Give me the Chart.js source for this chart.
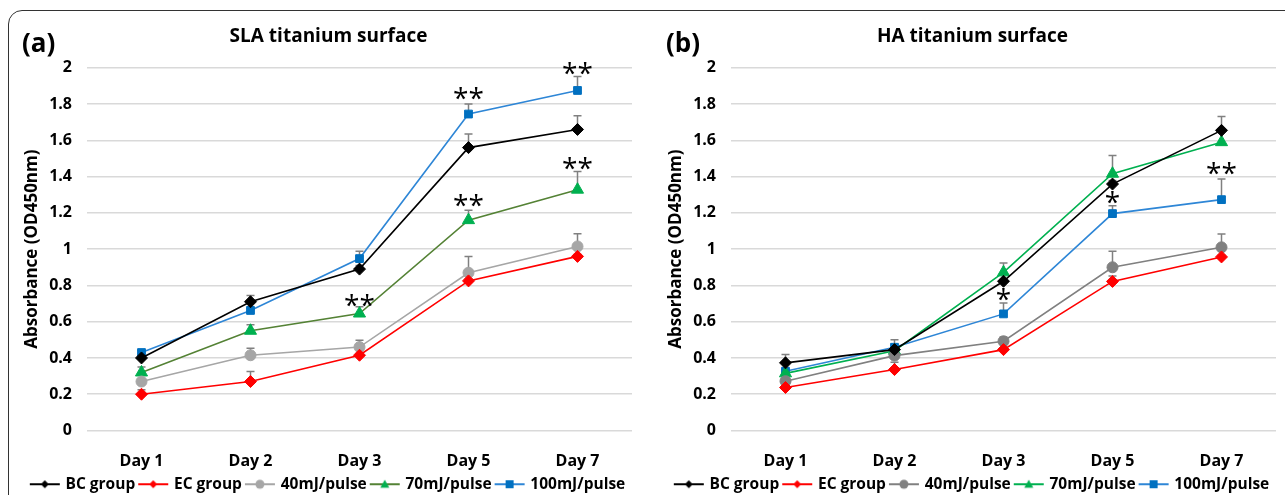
<!DOCTYPE html>
<html>
<head>
<meta charset="utf-8">
<script src="https://cdn.jsdelivr.net/npm/chart.js@4.4.1/dist/chart.umd.min.js"></script>
<style>
  html, body { margin: 0; padding: 0; background: #fff; overflow: hidden; }
  #wrap { position: relative; width: 1285px; height: 495px; overflow: hidden; }
  #frame { position: absolute; left: 8px; top: 10px; width: 1400px; height: 600px;
           border: 1.5px solid #333; border-top-left-radius: 14px; box-sizing: border-box; }
  .tag { position: absolute; top: 24px; font: bold 26px "Open Sans", sans-serif; color: #000; }
  canvas { position: absolute; top: 0; }
</style>
</head>
<body>
<div id="wrap">
  <div id="frame"></div>
  <canvas id="slaChart" width="640" height="502" style="left:0px"></canvas>
  <canvas id="haChart" width="640" height="502" style="left:644px"></canvas>
  <div class="tag" style="left:22px">(a)</div>
  <div class="tag" style="left:666px">(b)</div>
</div>
<script>
const days = ['Day 1', 'Day 2', 'Day 3', 'Day 5', 'Day 7'];
const seriesNames = ['BC group', 'EC group', '40mJ/pulse', '70mJ/pulse', '100mJ/pulse'];
const yTickLabels = ['0', '0.2', '0.4', '0.6', '0.8', '1', '1.2', '1.4', '1.6', '1.8', '2'];

// (a) SLA titanium surface
const slaBC = [0.40, 0.71, 0.89, 1.56, 1.66];
const slaEC = [0.20, 0.27, 0.415, 0.825, 0.96];
const sla40 = [0.27, 0.415, 0.46, 0.87, 1.015];
const sla70 = [0.32, 0.55, 0.645, 1.16, 1.328];
const sla100 = [0.43, 0.662, 0.948, 1.745, 1.875];
const slaBCErr = [0.01, 0.035, 0.02, 0.075, 0.075];
const slaECErr = [0.025, 0.055, 0.01, 0.01, 0.01];
const sla40Err = [0.01, 0.038, 0.037, 0.09, 0.07];
const sla70Err = [0.03, 0.033, 0.037, 0.055, 0.10];
const sla100Err = [0.01, 0.01, 0.04, 0.055, 0.077];
const slaStars = [[2, 0.72, '**'], [3, 1.86, '**'], [3, 1.27, '**'], [4, 2.0, '**'], [4, 1.475, '**']];

// (b) HA titanium surface
const haBC = [0.373, 0.446, 0.823, 1.359, 1.655];
const haEC = [0.237, 0.336, 0.446, 0.822, 0.957];
const ha40 = [0.272, 0.413, 0.492, 0.90, 1.01];
const ha70 = [0.315, 0.44, 0.872, 1.416, 1.59];
const ha100 = [0.327, 0.459, 0.643, 1.196, 1.273];
const haBCErr = [0.046, 0.01, 0.01, 0.02, 0.077];
const haECErr = [0.01, 0.04, 0.01, 0.03, 0.01];
const ha40Err = [0.01, 0.01, 0.024, 0.088, 0.074];
const ha70Err = [0.01, 0.01, 0.052, 0.10, 0];
const ha100Err = [0.01, 0.042, 0.06, 0.044, 0.114];
const haStars = [[2, 0.75, '*'], [3, 1.29, '*'], [4, 1.45, '**']];

const FONT = '"Open Sans", sans-serif';

function legendIcon(lineColor, markerColor, shape) {
    const c = document.createElement('canvas');
    c.width = 32; c.height = 12;
    const g = c.getContext('2d');
    g.strokeStyle = lineColor; g.lineWidth = 2;
    g.beginPath(); g.moveTo(1, 6); g.lineTo(31, 6); g.stroke();
    g.fillStyle = markerColor;
    g.beginPath();
    if (shape === 'rectRot') { g.moveTo(16, 2); g.lineTo(20, 6); g.lineTo(16, 10); g.lineTo(12, 6); }
    else if (shape === 'circle') { g.arc(16, 6, 4.5, 0, Math.PI * 2); }
    else if (shape === 'triangle') { g.moveTo(16, 1.5); g.lineTo(20.5, 9.5); g.lineTo(11.5, 9.5); }
    else { g.rect(12, 2, 8, 8); }
    g.fill();
    return c;
}

function series(label, data, errs, line, marker, shape, radius) {
    return {
        label: label, data: data, errorBars: errs,
        borderColor: line, backgroundColor: marker,
        pointBackgroundColor: marker, pointBorderColor: marker,
        pointStyle: shape, pointRadius: radius, pointHoverRadius: radius,
        borderWidth: 1.6, pointBorderWidth: 1, tension: 0,
        legendIcon: legendIcon(line, marker, shape)
    };
}

const errorBarPlugin = {
    id: 'errorBars',
    beforeDatasetsDraw(chart) {
        const ctx = chart.ctx, y = chart.scales.y;
        ctx.save();
        ctx.strokeStyle = '#808080';
        ctx.lineWidth = 1.5;
        chart.data.datasets.forEach((ds, di) => {
            const meta = chart.getDatasetMeta(di);
            ds.data.forEach((v, i) => {
                const e = ds.errorBars[i];
                if (!e) return;
                const px = meta.data[i].x;
                const y0 = y.getPixelForValue(v), y1 = y.getPixelForValue(v + e);
                ctx.beginPath();
                ctx.moveTo(px, y0); ctx.lineTo(px, y1);
                ctx.moveTo(px - 4, y1); ctx.lineTo(px + 4, y1);
                ctx.stroke();
            });
        });
        ctx.restore();
    }
};

const starsPlugin = {
    id: 'stars',
    afterDatasetsDraw(chart, args, opts) {
        const ctx = chart.ctx, x = chart.scales.x, y = chart.scales.y;
        ctx.save();
        ctx.fillStyle = '#000';
        ctx.font = '28px ' + FONT;
        ctx.textAlign = 'center';
        ctx.textBaseline = 'middle';
        (opts.marks || []).forEach(m => {
            ctx.fillText(m[2], x.getPixelForValue(m[0]), y.getPixelForValue(m[1]) + 7);
        });
        ctx.restore();
    }
};

function makeChart(id, title, datasets, stars) {
    return new Chart(document.getElementById(id).getContext('2d'), {
        type: 'line',
        data: { labels: days, datasets: datasets },
        plugins: [errorBarPlugin, starsPlugin],
        options: {
            responsive: false,
            animation: false,
            devicePixelRatio: 1,
            layout: { padding: { left: 18, right: 1, top: 0, bottom: 0 } },
            plugins: {
                title: {
                    display: true, text: title, color: '#000',
                    font: { family: FONT, size: 19, weight: 'bold' },
                    padding: { top: 25, bottom: 20 }
                },
                legend: {
                    position: 'bottom',
                    labels: {
                        usePointStyle: true, pointStyleWidth: 26, padding: 5,
                        color: '#000', font: { family: FONT, size: 15.5, weight: 'bold' },
                        generateLabels(chart) {
                            const items = Chart.defaults.plugins.legend.labels.generateLabels(chart);
                            items.forEach((it, i) => { it.pointStyle = chart.data.datasets[i].legendIcon; });
                            return items;
                        }
                    }
                },
                tooltip: { enabled: false },
                stars: { marks: stars }
            },
            scales: {
                x: {
                    offset: true,
                    grid: { display: false, offset: true }, border: { display: false },
                    ticks: { color: '#000', padding: 13, font: { family: FONT, size: 16, weight: 'bold' } },
                    afterFit(s) { s.height = 41; }
                },
                y: {
                    min: 0, max: 2,
                    grid: { color: '#d9d9d9', lineWidth: 1.5, drawTicks: false },
                    border: { display: false },
                    ticks: {
                        stepSize: 0.2, padding: 15, color: '#000',
                        font: { family: FONT, size: 16, weight: 'bold' },
                        callback: (v, i) => yTickLabels[i]
                    },
                    title: {
                        display: true, text: 'Absorbance (OD450nm)', color: '#000',
                        font: { family: FONT, size: 17, weight: 'bold' }
                    },
                    afterFit(s) { s.width = 69; }
                }
            }
        }
    });
}

makeChart('slaChart', 'SLA titanium surface', [
    series(seriesNames[0], slaBC, slaBCErr, '#000000', '#000000', 'rectRot', 6),
    series(seriesNames[1], slaEC, slaECErr, '#ff0000', '#ff0000', 'rectRot', 6),
    series(seriesNames[2], sla40, sla40Err, '#a6a6a6', '#a6a6a6', 'circle', 5.5),
    series(seriesNames[3], sla70, sla70Err, '#548235', '#00b050', 'triangle', 7),
    series(seriesNames[4], sla100, sla100Err, '#2e86d6', '#0070c0', 'rect', 5.5)
], slaStars);

makeChart('haChart', 'HA titanium surface', [
    series(seriesNames[0], haBC, haBCErr, '#000000', '#000000', 'rectRot', 6),
    series(seriesNames[1], haEC, haECErr, '#ff0000', '#ff0000', 'rectRot', 6),
    series(seriesNames[2], ha40, ha40Err, '#808080', '#808080', 'circle', 5.5),
    series(seriesNames[3], ha70, ha70Err, '#00b050', '#00b050', 'triangle', 7),
    series(seriesNames[4], ha100, ha100Err, '#2e86d6', '#0070c0', 'rect', 5.5)
], haStars);
</script>
</body>
</html>
